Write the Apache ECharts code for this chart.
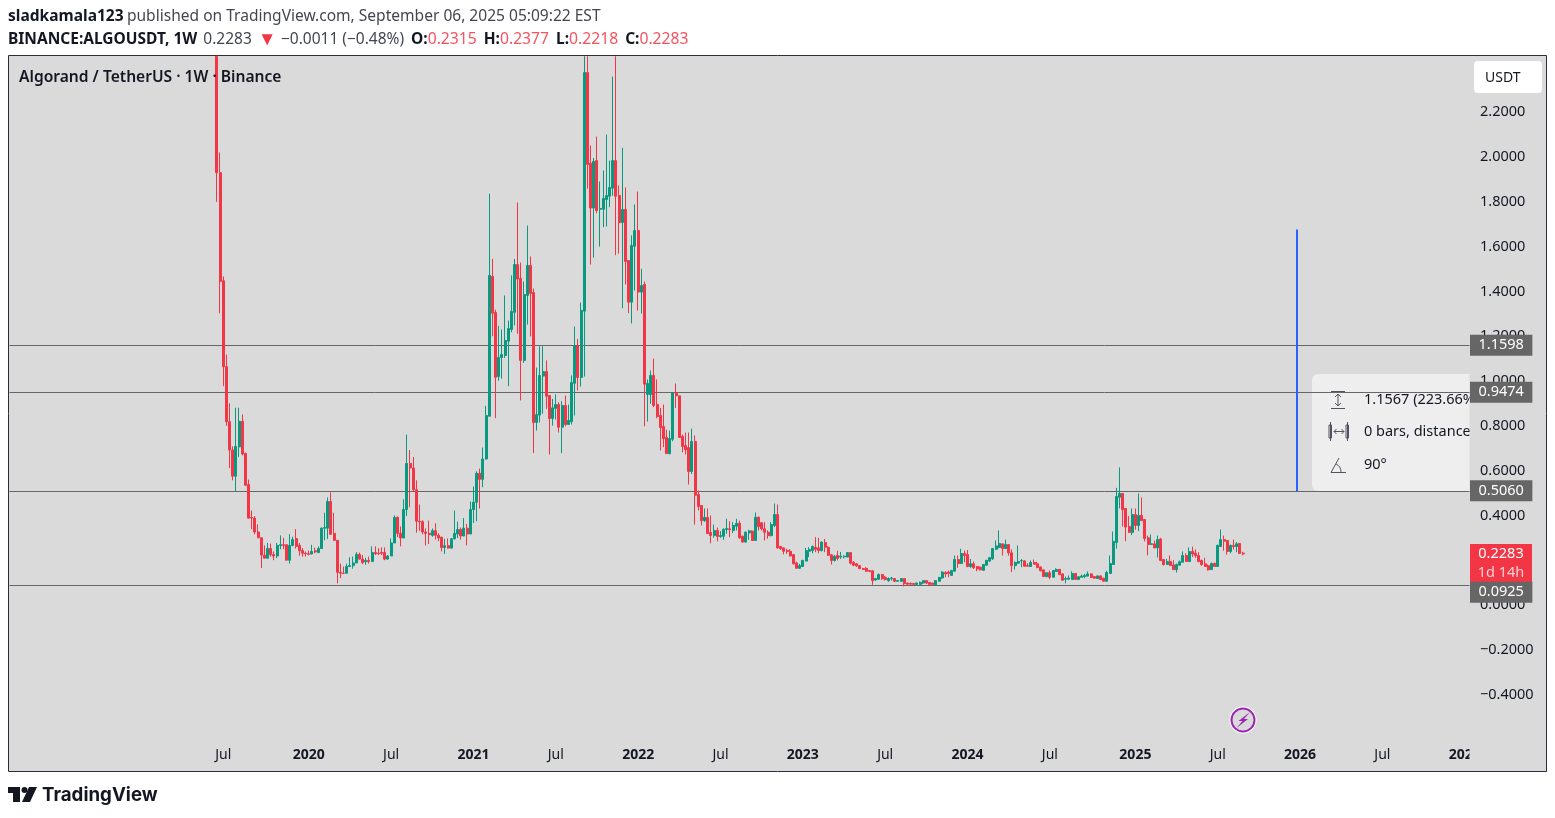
<!DOCTYPE html>
<html><head><meta charset="utf-8">
<style>html,body{margin:0;padding:0;background:#fff;overflow:hidden}#c{width:1555px;height:818px}</style>
<script src="https://cdn.jsdelivr.net/npm/echarts@6/dist/echarts.min.js"></script>
</head><body><div id="c"></div>
<script>
// weekly candles as [open, close, low, high]; values above the visible top of the pane are read as the pane's top
const ohlc2019 = [[2.45,1.93,1.80,2.45],[1.93,1.445,1.3025,2.0205],[1.448,1.064,.977,1.467],[1.064,.818,.80,1.118],[.818,.692,.611,.90],[.692,.575,.557,.708],[.575,.708,.508,.881],[.706,.82,.661,.881],[.82,.674,.668,.851],[.677,.535,.531,.68],[.538,.388,.385,.56],[.391,.388,.339,.422],[.388,.326,.316,.397],[.326,.30,.299,.36],[.30,.223,.165,.302],[.223,.209,.209,.266],[.209,.252,.209,.277],[.252,.225,.216,.274],[.225,.219,.20,.239],[.219,.266,.209,.277],[.266,.269,.249,.311],[.269,.266,.249,.30],[.269,.20,.20,.269],[.20,.266,.185,.316],[.266,.292,.262,.305],[.297,.262,.252,.339],[.266,.243,.22,.277],[.243,.231,.216,.254],[.231,.229,.216,.239]];
const ohlc2020 = [[.229,.226,.222,.243],[.228,.239,.226,.269],[.242,.237,.231,.256],[.234,.252,.234,.262],[.252,.343,.252,.346],[.343,.346,.289,.412],[.343,.462,.295,.48],[.462,.316,.313,.503],[.32,.289,.286,.412],[.289,.146,.097,.289],[.146,.142,.12,.185],[.142,.141,.14,.172],[.142,.172,.142,.185],[.172,.176,.171,.213],[.176,.188,.162,.216],[.188,.226,.188,.236],[.226,.205,.203,.234],[.205,.19,.182,.223],[.193,.199,.179,.211],[.199,.194,.185,.216],[.194,.234,.194,.262],[.234,.229,.223,.262],[.231,.23,.223,.254],[.234,.231,.223,.257],[.234,.205,.20,.257],[.205,.219,.203,.222],[.219,.277,.219,.297],[.277,.391,.277,.40],[.391,.32,.303,.396],[.32,.299,.262,.351],[.299,.426,.299,.472],[.426,.632,.397,.761],[.632,.612,.437,.692],[.612,.515,.508,.661],[.515,.374,.323,.557],[.374,.371,.331,.449],[.372,.326,.316,.379],[.326,.32,.266,.342],[.32,.314,.272,.377],[.311,.332,.305,.342],[.332,.311,.292,.365],[.311,.299,.285,.32],[.303,.257,.239,.305],[.257,.265,.228,.296],[.265,.254,.252,.297],[.254,.296,.252,.299],[.296,.32,.292,.422],[.317,.337,.299,.372],[.337,.308,.292,.346],[.308,.343,.308,.388],[.343,.317,.266,.362],[.317,.426,.317,.462]];
const ohlc2021 = [[.426,.459,.366,.529],[.459,.588,.374,.597],[.588,.561,.431,.609],[.561,.652,.526,.703],[.652,.846,.649,.889],[.843,1.471,.843,1.836],[1.467,1.303,1.20,1.545],[1.306,1.017,.834,1.318],[1.02,1.105,1.002,1.246],[1.105,1.118,1.011,1.23],[1.114,1.181,1.103,1.382],[1.178,1.234,.977,1.27],[1.23,1.31,1.218,1.471],[1.307,1.52,1.248,1.545],[1.52,1.455,1.211,1.797],[1.458,1.092,.913,1.529],[1.092,1.386,1.081,1.444],[1.382,1.516,1.252,1.694],[1.516,1.391,1.199,1.556],[1.395,.815,.678,1.413],[.815,.85,.779,1.06],[.848,1.025,.815,1.155],[1.022,1.042,.854,1.155],[1.042,.932,.876,1.092],[.935,.833,.672,.938],[.833,.88,.801,.92],[.878,.895,.828,.94],[.895,.794,.77,.905],[.794,.891,.678,.91],[.891,.806,.798,.935],[.806,.824,.806,.895],[.819,.993,.806,1.025],[.99,1.158,.846,1.243],[1.158,1.016,.958,1.188],[1.016,1.315,.975,1.35],[1.312,2.377,1.02,2.45],[2.377,1.967,1.859,2.45],[1.972,1.772,1.52,2.051],[1.772,1.98,1.551,1.996],[1.984,1.761,1.749,2.091],[1.767,1.77,1.60,1.891],[1.767,1.815,1.687,1.94],[1.81,1.828,1.69,2.10],[1.825,1.864,1.776,1.984],[1.861,1.984,1.827,2.359],[1.984,1.825,1.562,2.45],[1.828,1.708,1.569,1.873],[1.708,1.766,1.325,2.041],[1.766,1.534,1.431,1.864],[1.538,1.352,1.303,1.538],[1.352,1.605,1.257,1.65],[1.602,1.672,1.404,1.788]];
const ohlc2022 = [[1.672,1.397,1.315,1.846],[1.397,1.426,1.301,1.501],[1.431,.986,.798,1.444],[.94,.989,.819,1.007],[.94,1.025,.898,1.047],[1.025,.891,.883,1.10],[.895,.842,.834,1.007],[.846,.792,.69,.88],[.797,.743,.705,.895],[.748,.676,.676,.783],[.676,.743,.672,.779],[.74,.947,.731,.947],[.947,.934,.88,.989],[.934,.748,.748,.934],[.752,.708,.682,.761],[.712,.694,.672,.77],[.703,.596,.538,.77],[.596,.73,.585,.788],[.73,.49,.359,.757],[.493,.44,.422,.511],[.444,.377,.355,.444],[.377,.391,.371,.431],[.391,.319,.319,.431],[.324,.31,.275,.40],[.31,.333,.301,.359],[.333,.306,.284,.346],[.306,.31,.30,.33],[.307,.337,.291,.343],[.337,.342,.318,.385],[.34,.337,.303,.374],[.333,.355,.321,.37],[.352,.365,.333,.385],[.365,.30,.296,.377],[.307,.281,.279,.31],[.281,.325,.279,.328],[.322,.331,.291,.336],[.33,.288,.288,.333],[.288,.392,.288,.413],[.392,.35,.333,.395],[.367,.34,.333,.37],[.34,.325,.288,.37],[.325,.31,.296,.333],[.31,.359,.306,.37],[.355,.404,.348,.453],[.404,.255,.252,.449],[.261,.252,.246,.264],[.255,.24,.226,.258],[.243,.239,.228,.251],[.24,.219,.217,.249],[.225,.184,.181,.228],[.188,.164,.163,.194],[.164,.176,.161,.184]];
const ohlc2023 = [[.172,.199,.172,.202],[.196,.243,.196,.255],[.24,.248,.214,.258],[.243,.261,.231,.266],[.258,.249,.236,.303],[.255,.243,.231,.30],[.243,.281,.239,.284],[.279,.258,.236,.295],[.258,.222,.219,.263],[.224,.199,.181,.228],[.199,.218,.194,.222],[.221,.208,.199,.242],[.214,.218,.206,.237],[.215,.218,.208,.222],[.214,.234,.214,.234],[.234,.187,.181,.234],[.19,.178,.173,.196],[.184,.175,.17,.188],[.176,.163,.159,.176],[.163,.159,.157,.166],[.164,.151,.148,.169],[.154,.15,.147,.157],[.153,.109,.09,.154],[.112,.118,.109,.121],[.115,.136,.112,.141],[.136,.117,.112,.139],[.124,.114,.109,.129],[.109,.118,.103,.123],[.117,.12,.109,.126],[.118,.106,.103,.12],[.106,.109,.103,.112],[.106,.118,.103,.12],[.118,.095,.083,.118],[.098,.093,.086,.101],[.096,.093,.09,.101],[.096,.092,.089,.099],[.092,.098,.089,.101],[.092,.101,.09,.105],[.098,.109,.095,.109],[.109,.098,.095,.111],[.101,.092,.09,.103],[.098,.092,.089,.099],[.09,.109,.089,.109],[.106,.123,.106,.126],[.121,.147,.117,.151],[.145,.139,.124,.151],[.147,.141,.124,.154],[.132,.154,.132,.157],[.151,.203,.15,.221],[.203,.185,.166,.221],[.185,.23,.184,.251],[.23,.221,.191,.243]];
const ohlc2024 = [[.225,.172,.169,.246],[.172,.184,.166,.206],[.184,.166,.161,.194],[.172,.161,.151,.173],[.169,.157,.154,.172],[.155,.181,.154,.181],[.178,.199,.176,.202],[.196,.211,.194,.215],[.206,.252,.202,.255],[.249,.264,.246,.288],[.257,.275,.254,.333],[.273,.252,.221,.273],[.252,.27,.252,.292],[.27,.233,.221,.27],[.233,.176,.147,.248],[.176,.19,.158,.194],[.187,.194,.184,.266],[.197,.199,.169,.205],[.197,.173,.172,.20],[.176,.173,.172,.187],[.172,.19,.172,.199],[.19,.182,.181,.203],[.184,.167,.164,.193],[.17,.153,.15,.172],[.157,.127,.127,.157],[.127,.144,.124,.147],[.144,.124,.115,.154],[.124,.154,.124,.154],[.15,.159,.148,.164],[.159,.136,.133,.161],[.139,.111,.109,.142],[.115,.118,.097,.127],[.115,.12,.114,.132],[.114,.141,.114,.15],[.141,.114,.114,.142],[.114,.126,.114,.127],[.124,.129,.124,.136],[.126,.132,.12,.139],[.129,.139,.127,.15],[.139,.123,.12,.141],[.127,.12,.117,.13],[.118,.13,.117,.132],[.13,.114,.111,.133],[.12,.106,.106,.121],[.106,.145,.106,.153],[.141,.185,.141,.221],[.181,.284,.181,.328],[.279,.484,.252,.523],[.481,.498,.432,.614],[.498,.426,.35,.498],[.431,.348,.285,.431],[.35,.324,.324,.397],[.324,.404,.312,.431]];
const ohlc2025 = [[.404,.355,.336,.431],[.355,.40,.33,.498],[.40,.377,.377,.48],[.382,.297,.284,.382],[.30,.27,.221,.31],[.27,.273,.27,.315],[.273,.255,.255,.288],[.255,.292,.212,.31],[.295,.199,.199,.30],[.203,.181,.176,.203],[.181,.194,.181,.206],[.194,.176,.176,.221],[.179,.158,.158,.20],[.158,.181,.145,.185],[.178,.193,.175,.199],[.191,.221,.191,.239],[.221,.194,.194,.231],[.194,.239,.194,.257],[.239,.228,.214,.261],[.231,.221,.211,.248],[.221,.194,.191,.236],[.199,.181,.175,.203],[.184,.172,.172,.211],[.175,.157,.154,.181],[.158,.185,.158,.19],[.185,.172,.172,.19],[.172,.266,.172,.27],[.261,.292,.261,.337],[.292,.285,.243,.31],[.288,.239,.225,.291],[.239,.266,.231,.27],[.266,.261,.248,.292],[.261,.273,.236,.281],[.275,.23,.23,.275],[.2315,.2283,.2218,.2377]];

const firstAxisWeek = '2018-03-19';   // 65 empty weeks before the first candle
const leadingWeeks = 65;
const axisWeeks = 461;
const tickDates = ['2019-07-01','2020-01-06','2020-07-06','2021-01-04','2021-07-05','2022-01-03','2022-07-04','2023-01-02','2023-07-03','2024-01-01','2024-07-01','2025-01-06','2025-07-07','2026-01-05','2026-07-06','2027-01-04'];
const tickTexts = ['Jul','2020','Jul','2021','Jul','2022','Jul','2023','Jul','2024','Jul','2025','Jul','2026','Jul','2027'];
const priceTicks = [-0.4,-0.2,0,0.2,0.4,0.6,0.8,1.0,1.2,1.4,1.6,1.8,2.0,2.2];
const levelLines = [1.1598,0.9474,0.5060,0.0925];
const levelLabelShift = [0,0,0,7.5];
const lastPrice = 0.2283;
const measureFrom = 0.508, measureTo = 1.676, measureWeek = '2025-12-29';
const FONT = '"Noto Sans", sans-serif';
const RED='#F23645', GREEN='#089981', TXT='#131722', BG='#dadada';

const candles = [].concat(ohlc2019,ohlc2020,ohlc2021,ohlc2022,ohlc2023,ohlc2024,ohlc2025);
const categories = [];
{ const t0 = Date.parse(firstAxisWeek+'T00:00:00Z');
  for (let i=0;i<axisWeeks;i++) categories.push(new Date(t0+i*7*864e5).toISOString().slice(0,10)); }
const seriesData = new Array(leadingWeeks).fill('-').concat(candles);
const tickMap = {}; tickDates.forEach((d,i)=>tickMap[d]=tickTexts[i]);

function fmt(v){return (v<0?'\u2212':'')+Math.abs(v).toFixed(4);}

const chart = echarts.init(document.getElementById('c'),null,{renderer:'canvas'});
const t = (x,y,text,font,fill,z,extra)=>Object.assign({type:'text',x,y,z:z||10,silent:true,style:Object.assign({text,font,fill,textVerticalAlign:'middle'},extra||{})});
const lineEl=(x1,y1,x2,y2,c,w)=>({type:'line',z:2,silent:true,shape:{x1,y1,x2,y2},style:{stroke:c||'#50535e',lineWidth:w||1}});
chart.setOption({
  animation:false,
  backgroundColor:'#fff',
  grid:{left:9.5,top:56,width:1460,height:715,containLabel:false},
  tooltip:{show:false},
  xAxis:{type:'category',data:categories,boundaryGap:true,z:3,
    axisLine:{show:false},axisTick:{show:false},splitLine:{show:false},
    axisLabel:{inside:true,margin:9,interval:(i,v)=>v in tickMap,hideOverlap:false,
      formatter:v=>{const s=tickMap[v]||'';return s==='Jul'?s:'{b|'+s+'}';},
      color:TXT,fontFamily:FONT,fontSize:14,rich:{b:{fontWeight:'bold',fontFamily:FONT,fontSize:14,color:TXT}}}},
  yAxis:{type:'value',position:'right',min:-0.741,max:2.451,z:5,scale:false,
    axisLine:{show:false},axisTick:{show:false},splitLine:{show:false},
    axisLabel:{customValues:priceTicks,margin:10.5,padding:[2,0,0,0],formatter:fmt,color:TXT,fontFamily:FONT,fontSize:14.5,align:'left'}},
  series:[{type:'candlestick',z:6,barWidth:2.5,data:seriesData,clip:true,silent:true,
    itemStyle:{color:GREEN,color0:RED,borderColor:GREEN,borderColor0:RED,borderWidth:1},
    markLine:{silent:true,symbol:'none',z:6,animation:false,
      lineStyle:{color:'#666',width:1,type:'solid'},
      data:[
        {yAxis:lastPrice,lineStyle:{color:'rgba(0,0,0,0)'},label:{show:true,position:'end',distance:0.5,offset:[0,9.5],formatter:'{a|'+lastPrice.toFixed(4)+'}\n{c|1d 14h}',backgroundColor:RED,padding:[0,0,0,0],
          rich:{a:{color:'#fff',fontFamily:FONT,fontSize:14.5,width:62,align:'center',height:19,lineHeight:19},c:{color:'#fbd0d4',fontFamily:FONT,fontSize:14.5,width:62,align:'center',height:19,lineHeight:19}}}},
        ...levelLines.map((v,i)=>({yAxis:v,label:{show:true,position:'end',distance:0.5,offset:[0,levelLabelShift[i]],formatter:v.toFixed(4),color:'#fff',backgroundColor:'#666',fontFamily:FONT,fontSize:14.5,lineHeight:15,padding:[4.5,8.5,1.5,8.5]}})),
        [{coord:[measureWeek,measureFrom],lineStyle:{color:'#2962FF',width:2},label:{show:false}},{coord:[measureWeek,measureTo]}]
      ]}}],
  graphic:{elements:[
    {type:'rect',z:0,silent:true,shape:{x:8.5,y:55.5,width:1538,height:716},style:{fill:BG,stroke:'#2a2e39',lineWidth:1}},
    // measure info panel
    {type:'rect',z:1,silent:true,shape:{x:1312,y:374,width:175,height:117,r:6},style:{fill:'#eeeeee'}},
    t(1364,400,'1.1567 (223.66%)','14.5px '+FONT,TXT,2),
    t(1364,432,'0 bars, distance: 0','14.5px '+FONT,TXT,2),
    t(1364,465,'90\u00b0','14.5px '+FONT,TXT,2),
    lineEl(1331,391.5,1345,391.5), lineEl(1331,408.5,1345,408.5), lineEl(1338,394,1338,406),
    lineEl(1335,397,1338,394), lineEl(1341,397,1338,394), lineEl(1335,403,1338,406), lineEl(1341,403,1338,406),
    {type:'rect',z:2,silent:true,shape:{x:1329,y:425,width:2.5,height:13},style:{fill:'none',stroke:'#50535e',lineWidth:1}},
    {type:'rect',z:2,silent:true,shape:{x:1346,y:425,width:2.5,height:13},style:{fill:'none',stroke:'#50535e',lineWidth:1}},
    lineEl(1330.5,422,1330.5,441), lineEl(1347.5,422,1347.5,441),
    lineEl(1334,431.5,1344,431.5), lineEl(1334,431.5,1336.5,429), lineEl(1334,431.5,1336.5,434), lineEl(1344,431.5,1341.5,429), lineEl(1344,431.5,1341.5,434),
    lineEl(1331,472.5,1346,472.5), lineEl(1331,472.5,1339,458), {type:'arc',z:2,silent:true,shape:{cx:1332,cy:472,r:9,startAngle:-1.1,endAngle:0},style:{fill:'none',stroke:'#50535e',lineWidth:1}},
    // cover for the price scale
    {type:'rect',z:4,silent:true,shape:{x:1469.5,y:56,width:76.5,height:715},style:{fill:BG}},
    // header
    {type:'text',x:8,y:17,z:10,silent:true,style:{rich:{b:{font:'bold 15.55px '+FONT,fill:TXT},n:{font:'15.55px '+FONT,fill:'#434651'}},text:'{b|sladkamala123} {n|published on TradingView.com, September 06, 2025 05:09:22 EST}',textVerticalAlign:'middle'}},
    {type:'text',x:8,y:39.5,z:10,silent:true,style:{rich:{b:{font:'bold 15.5px '+FONT,fill:TXT,padding:[0,0,0,0]},o:{font:'bold 15.5px '+FONT,fill:TXT,padding:[0,0,0,3]},g:{font:'15.5px '+FONT,fill:'#434651',padding:[0,6,0,6]},h:{font:'15.5px '+FONT,fill:'#434651',padding:[0,4,0,1]},r:{font:'15.7px '+FONT,fill:'#F7525F',padding:[0,7,0,0]},a:{font:'19px '+FONT,fill:RED},z:{font:'15.7px '+FONT,fill:'#F7525F'}},text:'{b|BINANCE:ALGOUSDT, 1W}{g|0.2283}{a|\u25BC} {h|\u22120.0011 (\u22120.48%)}{o|O:}{r|0.2315}{b|H:}{r|0.2377}{b|L:}{r|0.2218}{b|C:}{z|0.2283}',textVerticalAlign:'middle'}},
    t(19,77.5,'Algorand / TetherUS \u00b7 1W \u00b7 Binance','600 15.6px '+FONT,TXT,10),
    // currency button
    {type:'rect',z:10,silent:true,shape:{x:1474,y:61,width:68,height:32,r:4},style:{fill:'#fff'}},
    t(1485,78,'USDT','14px '+FONT,TXT,11),
    // lightning badge
    {type:'circle',z:10,silent:true,shape:{cx:1243,cy:720,r:13.5},style:{fill:'#fff'}},
    {type:'circle',z:11,silent:true,shape:{cx:1243,cy:720,r:11.5},style:{fill:BG,stroke:'#9c27b0',lineWidth:2}},
    {type:'polygon',z:12,silent:true,shape:{points:[[1250,712],[1238.5,721],[1242.5,721],[1236.5,728],[1248,719],[1244,719]]},style:{fill:'#9c27b0'}},
    // logo
    {type:'polygon',z:10,silent:true,shape:{points:[[8,787],[20,787],[20,802],[13,802],[13,793],[8,793]]},style:{fill:'#131722'}},
    {type:'circle',z:10,silent:true,shape:{cx:24.5,cy:790,r:3},style:{fill:'#131722'}},
    {type:'polygon',z:10,silent:true,shape:{points:[[29,787],[37,787],[30,802],[22,802]]},style:{fill:'#131722'}},
    t(42,795,'TradingView','700 18.7px Inter, Roboto, sans-serif','#131722',10)
  ]}
});
</script></body></html>
